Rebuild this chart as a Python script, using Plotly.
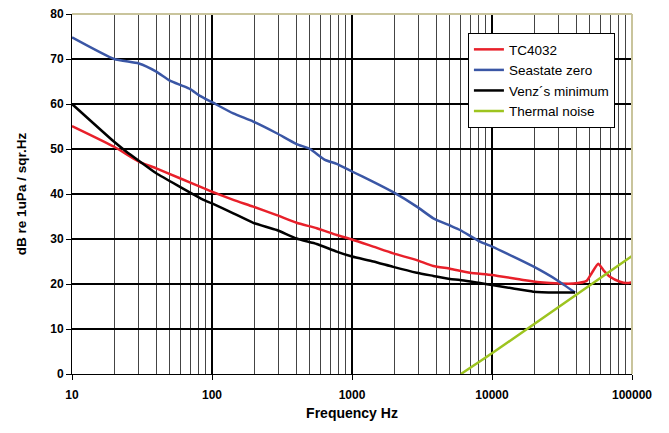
import plotly.graph_objects as go

# TC4032
tc_f = [10, 20, 30, 40, 59, 87, 100, 142, 197, 290, 402, 560, 777, 1000, 1420, 1970, 2900,
        3810, 5010, 6960, 10000, 16700, 22000, 30600, 38100, 47400, 51500, 57400, 62400,
        69600, 82100, 91600, 100000]
tc_db = [55.1, 50.5, 47.2, 45.7, 43.5, 41.3, 40.5, 38.7, 37.2, 35.3, 33.6, 32.4, 30.9, 29.9,
         28.3, 26.8, 25.3, 24.0, 23.4, 22.5, 22.0, 20.9, 20.4, 20.1, 20.1, 20.7, 22.4, 24.5,
         23.1, 21.6, 20.5, 20.2, 20.4]

# Seastate zero
ss_f = [10, 20, 30, 40, 50, 61, 70, 82, 100, 142, 197, 290, 402, 501, 641, 777, 1000, 1420,
        1970, 2900, 3810, 5010, 5910, 8210, 10000, 12700, 19700, 29000, 39200]
ss_db = [74.8, 70.0, 69.0, 67.2, 65.2, 64.1, 63.3, 61.8, 60.4, 57.9, 56.1, 53.5, 51.1, 50.0,
         47.6, 46.7, 45.0, 42.7, 40.4, 37.2, 34.6, 33.0, 32.0, 29.4, 28.3, 26.8, 23.9, 20.9, 18.1]

# Venz's minimum
vz_f = [10, 20, 24.5, 30, 40, 59, 87, 100, 142, 197, 290, 402, 560, 777, 1000, 1420, 1970,
        2900, 3810, 5010, 5910, 10000, 14200, 19700, 29000, 39200]
vz_db = [60.0, 51.6, 49.4, 47.4, 44.6, 41.6, 38.7, 37.9, 35.7, 33.6, 32.0, 30.1, 28.9, 27.2,
         26.1, 25.0, 23.8, 22.5, 21.8, 21.1, 20.9, 19.8, 19.0, 18.3, 18.1, 18.1]

# Thermal noise
th_f = [6000, 10000, 100000]
th_db = [0.0, 4.6, 26.2]

FONT = "Liberation Sans, Arial, sans-serif"

fig = go.Figure()
for name, xs, ys, col in [
    ("TC4032", tc_f, tc_db, "#e8202a"),
    ("Seastate zero", ss_f, ss_db, "#3a56a5"),
    ("Venz\u00b4s minimum", vz_f, vz_db, "#000000"),
    ("Thermal noise", th_f, th_db, "#9dc41f"),
]:
    fig.add_trace(go.Scatter(x=xs, y=ys, mode="lines", name=name, legendgroup=name,
                             line=dict(color=col, width=2.5, shape="spline", smoothing=0.5)))

fig.update_layout(
    width=661, height=425,
    margin=dict(l=64, r=37, t=6, b=59, autoexpand=False),
    paper_bgcolor="white", plot_bgcolor="white",
    font=dict(family=FONT, color="black"),
    legend=dict(x=0.707, y=0.947, xanchor="left", yanchor="top",
                bgcolor="white", bordercolor="black", borderwidth=1,
                font=dict(family=FONT, size=13.5, color="black"),
                itemwidth=30, tracegroupgap=0, traceorder="grouped"),
    showlegend=True,
)

fig.update_xaxes(
    type="log", range=[1, 5], automargin=False,
    tickvals=[10, 100, 1000, 10000, 100000],
    ticktext=["10", "100", "1000", "10000", "100000"],
    tickfont=dict(family=FONT, size=12, color="black", weight="bold"),
    ticklabelstandoff=5,
    showgrid=True, gridcolor="black", gridwidth=2,
    minor=dict(showgrid=True, gridcolor="#444444", gridwidth=1, dtick="D1",
               ticks=""),
    showline=True, linecolor="black", linewidth=1,
    ticks="outside", ticklen=5, tickcolor="black",
    zeroline=False,
    title=dict(text="Frequency Hz", font=dict(family=FONT, size=14, color="black", weight="bold"),
               standoff=6),
)
fig.update_yaxes(
    range=[0, 80], dtick=10, automargin=False,
    tickfont=dict(family=FONT, size=12, color="black", weight="bold"),
    ticklabeloverflow="allow",
    showgrid=True, gridcolor="black", gridwidth=1.5,
    showline=True, linecolor="black", linewidth=1,
    ticks="outside", ticklen=5, tickcolor="black",
    zeroline=False,
    title=dict(text="dB re 1uPa / sqr.Hz", font=dict(family=FONT, size=13.5, color="black", weight="bold"),
               standoff=20),
)

# khaki frame on top and right of plot area
fig.add_shape(type="line", xref="paper", yref="paper", x0=0, x1=1, y0=1, y1=1,
              line=dict(color="#c9c49c", width=2))
fig.add_shape(type="line", xref="paper", yref="paper", x0=1, x1=1, y0=0, y1=1,
              line=dict(color="#c9c49c", width=2))

fig.write_html("out.html")
